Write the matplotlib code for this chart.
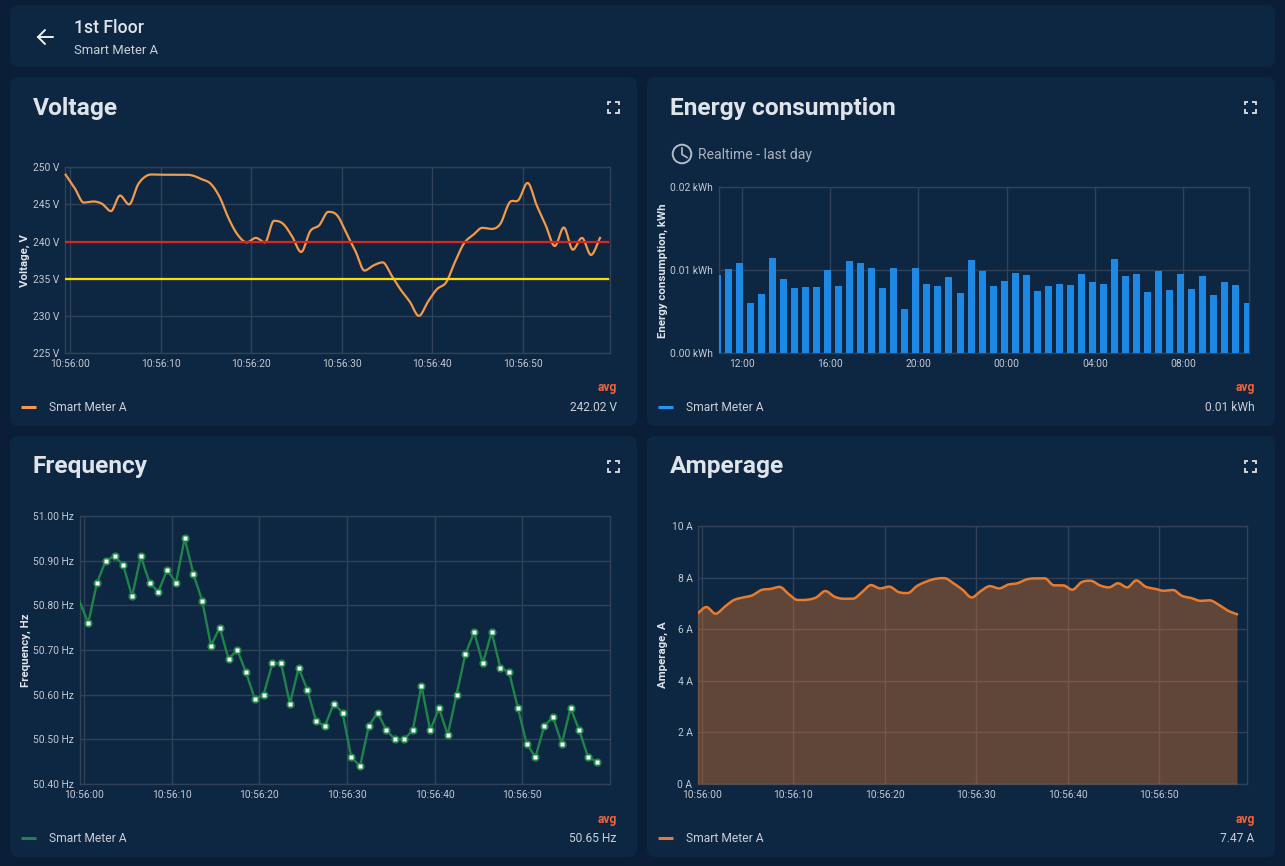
import numpy as np
import matplotlib
matplotlib.use("Agg")
import matplotlib.pyplot as plt
from matplotlib.patches import FancyBboxPatch, Circle

plt.rcParams['font.family'] = ['Roboto', 'DejaVu Sans']

W, H = 1285, 866

time_labels = ['10:56:00', '10:56:10', '10:56:20', '10:56:30', '10:56:40', '10:56:50']
time_ticks = [0, 10, 20, 30, 40, 50]
seconds = [i - 0.5 for i in range(60)]

voltage = [249, 247.2, 245.25, 245.4, 245.1, 244.1, 246.2, 245, 247.7, 248.9,
           249, 249, 249, 249, 248.9, 248.4, 247.8, 246, 243.1, 240.9,
           239.9, 240.5, 239.9, 242.8, 242.4, 240.7, 238.6, 241.4, 242.2, 244,
           243.5, 241.1, 238.7, 236.1, 236.8, 237.2, 235.4, 233.5, 231.9, 230,
           231.9, 233.6, 234.5, 237.3, 239.8, 240.9, 241.85, 241.7, 242.4, 245.25,
           245.6, 247.9, 244.9, 242.2, 239.4, 241.9, 238.9, 240.5, 238.2, 240.5]
voltage_thresholds = [240, 235]
voltage_ticks = [225, 230, 235, 240, 245, 250]

energy_hours = [-1.11 + 0.5 * i for i in range(49)]
energy = [.00944, .0102, .0109, .00606, .00715, .01145, .009, .00783, .008, .00795,
          .01004, .00807, .01116, .01084, .01032, .00783, .01028, .0053, .01028, .00831,
          .00811, .00916, .00723, .01124, .00992, .00807, .00876, .00968, .0094, .00751,
          .00815, .00831, .00819, .00956, .00863, .00839, .01133, .00932, .0096, .00743,
          .00996, .00759, .00952, .00775, .00928, .00703, .00855, .00819, .00606]
energy_tick_hours = [0, 4, 8, 12, 16, 20]
energy_tick_labels = ['12:00', '16:00', '20:00', '00:00', '04:00', '08:00']
energy_ticks = [0, 0.01, 0.02]

frequency = [50.81, 50.76, 50.85, 50.90, 50.91, 50.89, 50.82, 50.91, 50.85, 50.83,
             50.88, 50.85, 50.95, 50.87, 50.81, 50.71, 50.75, 50.68, 50.70, 50.65,
             50.59, 50.60, 50.67, 50.67, 50.58, 50.66, 50.61, 50.54, 50.53, 50.58,
             50.56, 50.46, 50.44, 50.53, 50.56, 50.52, 50.50, 50.50, 50.52, 50.62,
             50.52, 50.57, 50.51, 50.60, 50.69, 50.74, 50.67, 50.74, 50.66, 50.65,
             50.57, 50.49, 50.46, 50.53, 50.55, 50.49, 50.57, 50.52, 50.46, 50.45]
frequency_ticks = [50.4, 50.5, 50.6, 50.7, 50.8, 50.9, 51.0]

amperage = [6.6, 6.86, 6.6, 6.87, 7.13, 7.23, 7.31, 7.52, 7.56, 7.64,
            7.36, 7.13, 7.14, 7.23, 7.48, 7.26, 7.18, 7.18, 7.43, 7.71,
            7.58, 7.65, 7.44, 7.4, 7.67, 7.84, 7.95, 7.98, 7.78, 7.53,
            7.23, 7.48, 7.67, 7.58, 7.73, 7.78, 7.93, 7.97, 7.97, 7.7,
            7.7, 7.53, 7.82, 7.88, 7.7, 7.62, 7.78, 7.62, 7.89, 7.65,
            7.57, 7.49, 7.52, 7.29, 7.21, 7.1, 7.12, 6.95, 6.72, 6.58]
amperage_ticks = [0, 2, 4, 6, 8, 10]

BG = '#0a1e38'
CARD = '#0d2641'
GRID = '#2f4257'
TICK = '#c3cad2'
TEXT = '#dfe4ea'
SUB = '#c9d0d8'
AVG = '#f0643c'
V_COL = '#f2994a'
E_COL = '#1e88e5'
F_COL = '#1e8449'
A_COL = '#e97b2c'


def smooth(x, y, n=12):
    """Catmull-Rom curve through the read values (the look of the spline line)."""
    x, y = np.asarray(x, float), np.asarray(y, float)
    m = np.gradient(y, x)
    d0 = np.diff(y) / np.diff(x)
    m[1:-1][d0[:-1] * d0[1:] <= 0] = 0
    xs, ys = [], []
    for i in range(len(x) - 1):
        h = x[i + 1] - x[i]
        s = np.linspace(0, 1, n, endpoint=False)
        xs.append(x[i] + s * h)
        ys.append((2*s**3 - 3*s**2 + 1) * y[i] + (s**3 - 2*s**2 + s) * h * m[i]
                  + (-2*s**3 + 3*s**2) * y[i + 1] + (s**3 - s**2) * h * m[i + 1])
    return np.r_[np.concatenate(xs), x[-1]], np.r_[np.concatenate(ys), y[-1]]


fig = plt.figure(figsize=(W / 100, H / 100), dpi=100, facecolor=BG)
bg = fig.add_axes([0, 0, 1, 1], zorder=0)
bg.set_xlim(0, W)
bg.set_ylim(H, 0)
bg.axis('off')


def card(x0, y0, x1, y1):
    bg.add_patch(FancyBboxPatch((x0 + 8, y0 + 8), x1 - x0 - 16, y1 - y0 - 16,
                                boxstyle='round,pad=8,rounding_size=8',
                                fc=CARD, ec='none'))


def expand_icon(cx, cy):
    r, a = 5.5, 3.2
    for sx in (-1, 1):
        for sy in (-1, 1):
            bg.plot([cx + sx * (r - a), cx + sx * r, cx + sx * r],
                    [cy + sy * r, cy + sy * r, cy + sy * (r - a)],
                    color='#dde2e8', lw=1.3, solid_joinstyle='miter', solid_capstyle='butt')


def px(p):
    return p * 0.72


def panel(box, title, ylabel, ylabel_x, xlim, ylim, yticks, ylabels, xticks, xlabels,
          legend_color, avg_text, card_box):
    x0, y0, x1, y1 = card_box
    card(x0, y0, x1, y1)
    bg.text(x0 + 23, y0 + 31, title, fontsize=px(24.5), fontweight='bold', color=TEXT,
            va='center', ha='left')
    expand_icon(x0 + 603, y0 + 30)
    bg.text(x1 - 20.5, y1 - 38, 'avg', fontsize=px(12), fontweight='bold', color=AVG,
            ha='right', va='center')
    bg.plot([x0 + 11, x0 + 26], [y1 - 19.5, y1 - 19.5], color=legend_color, lw=2.2,
            solid_capstyle='butt')
    bg.text(x0 + 39, y1 - 18.5, 'Smart Meter A', fontsize=px(12), color=SUB, va='center')
    bg.text(x1 - 20.5, y1 - 18.5, avg_text, fontsize=px(12), color=SUB, ha='right', va='center')

    ax = fig.add_axes([box[0] / W, 1 - box[3] / H, (box[2] - box[0]) / W, (box[3] - box[1]) / H],
                      zorder=2)
    ax.patch.set_alpha(0)
    ax.set_xlim(*xlim)
    ax.set_ylim(*ylim)
    ax.set_yticks(yticks, ylabels)
    ax.set_xticks(xticks, xlabels)
    ax.grid(True, color=GRID, lw=1)
    ax.set_axisbelow(True)
    ax.tick_params(length=0, labelsize=px(10.3), labelcolor=TICK, pad=4)
    for s in ax.spines.values():
        s.set_color(GRID)
        s.set_linewidth(1)
    bg.text(ylabel_x, (box[1] + box[3]) / 2, ylabel, rotation=90, fontsize=px(11.5),
            fontweight='bold', color=TEXT, ha='center', va='center')
    return ax


# Header
card(10, 5, 1275, 67)
bg.plot([38, 53], [37, 37], color='#eef1f4', lw=1.4, solid_capstyle='round')
bg.plot([45, 38, 45], [30, 37, 44], color='#eef1f4', lw=1.4, solid_capstyle='round',
        solid_joinstyle='miter')
bg.text(74, 28, '1st Floor', fontsize=px(17.6), fontweight='medium', color=TEXT, va='center')
bg.text(74, 50, 'Smart Meter A', fontsize=px(13), color=SUB, va='center')

# Voltage
ax = panel((65.3, 167.3, 610, 353), 'Voltage', 'Voltage, V', 25, (-0.54, 59.6), (225, 250),
           voltage_ticks, [f'{v} V' for v in voltage_ticks], time_ticks, time_labels,
           V_COL, '242.02 V', (10, 77, 637, 426))
ax.plot(*smooth(seconds, voltage), color=V_COL, lw=1.6, clip_on=False, zorder=3)
ax.plot([-0.54, 59.4], [voltage_thresholds[0]] * 2, color='#d9271f', lw=1.6, zorder=4)
ax.plot([-0.54, 59.4], [voltage_thresholds[1]] * 2, color='#ffdc00', lw=1.6, zorder=4)

# Energy
ax = panel((718.5, 187.3, 1249, 353.3), 'Energy consumption', 'Energy consumption, kWh', 662.5,
           (-1.05, 22.98), (0, 0.02), energy_ticks, [f'{v:.2f} kWh' for v in energy_ticks],
           energy_tick_hours, energy_tick_labels, '#2196f3', '0.01 kWh', (647, 77, 1275, 426))
ax.bar(energy_hours, energy, width=0.317, color=E_COL, zorder=3)
bg.add_patch(Circle((682, 154), 9.3, fc='none', ec='#b4bcc6', lw=1.4))
bg.plot([682, 682, 687], [148, 154.5, 157.5], color='#b4bcc6', lw=1.2)
bg.text(698, 154.5, 'Realtime - last day', fontsize=px(14), color='#a9b2bd', va='center')

# Frequency
ax = panel((79.6, 516, 610, 784), 'Frequency', 'Frequency, Hz', 26, (-0.48, 60.0), (50.4, 51.0),
           frequency_ticks, [f'{v:.2f} Hz' for v in frequency_ticks], time_ticks, time_labels,
           F_COL, '50.65 Hz', (10, 436, 637, 857))
ax.plot(seconds, frequency, color=F_COL, lw=1.7, zorder=3)
ax.plot(seconds[1:], frequency[1:], ls='none', marker='o', ms=6, mfc=F_COL, mec='none', zorder=4)
ax.plot(seconds[1:], frequency[1:], ls='none', marker='s', ms=3, mfc='white', mec='none', zorder=5)

# Amperage
ax = panel((698, 526, 1247, 784), 'Amperage', 'Amperage, A', 662.5, (-0.42, 59.6), (0, 10),
           amperage_ticks, [f'{v} A' for v in amperage_ticks], time_ticks, time_labels,
           A_COL, '7.47 A', (647, 436, 1275, 857))
xs, ys = smooth(seconds, amperage)
ax.fill_between(xs, 0, ys, color=A_COL, alpha=0.38, lw=0, zorder=3)
ax.plot(xs, ys, color=A_COL, lw=1.8, zorder=4)

fig.savefig('out.png', dpi=100, facecolor=BG)
